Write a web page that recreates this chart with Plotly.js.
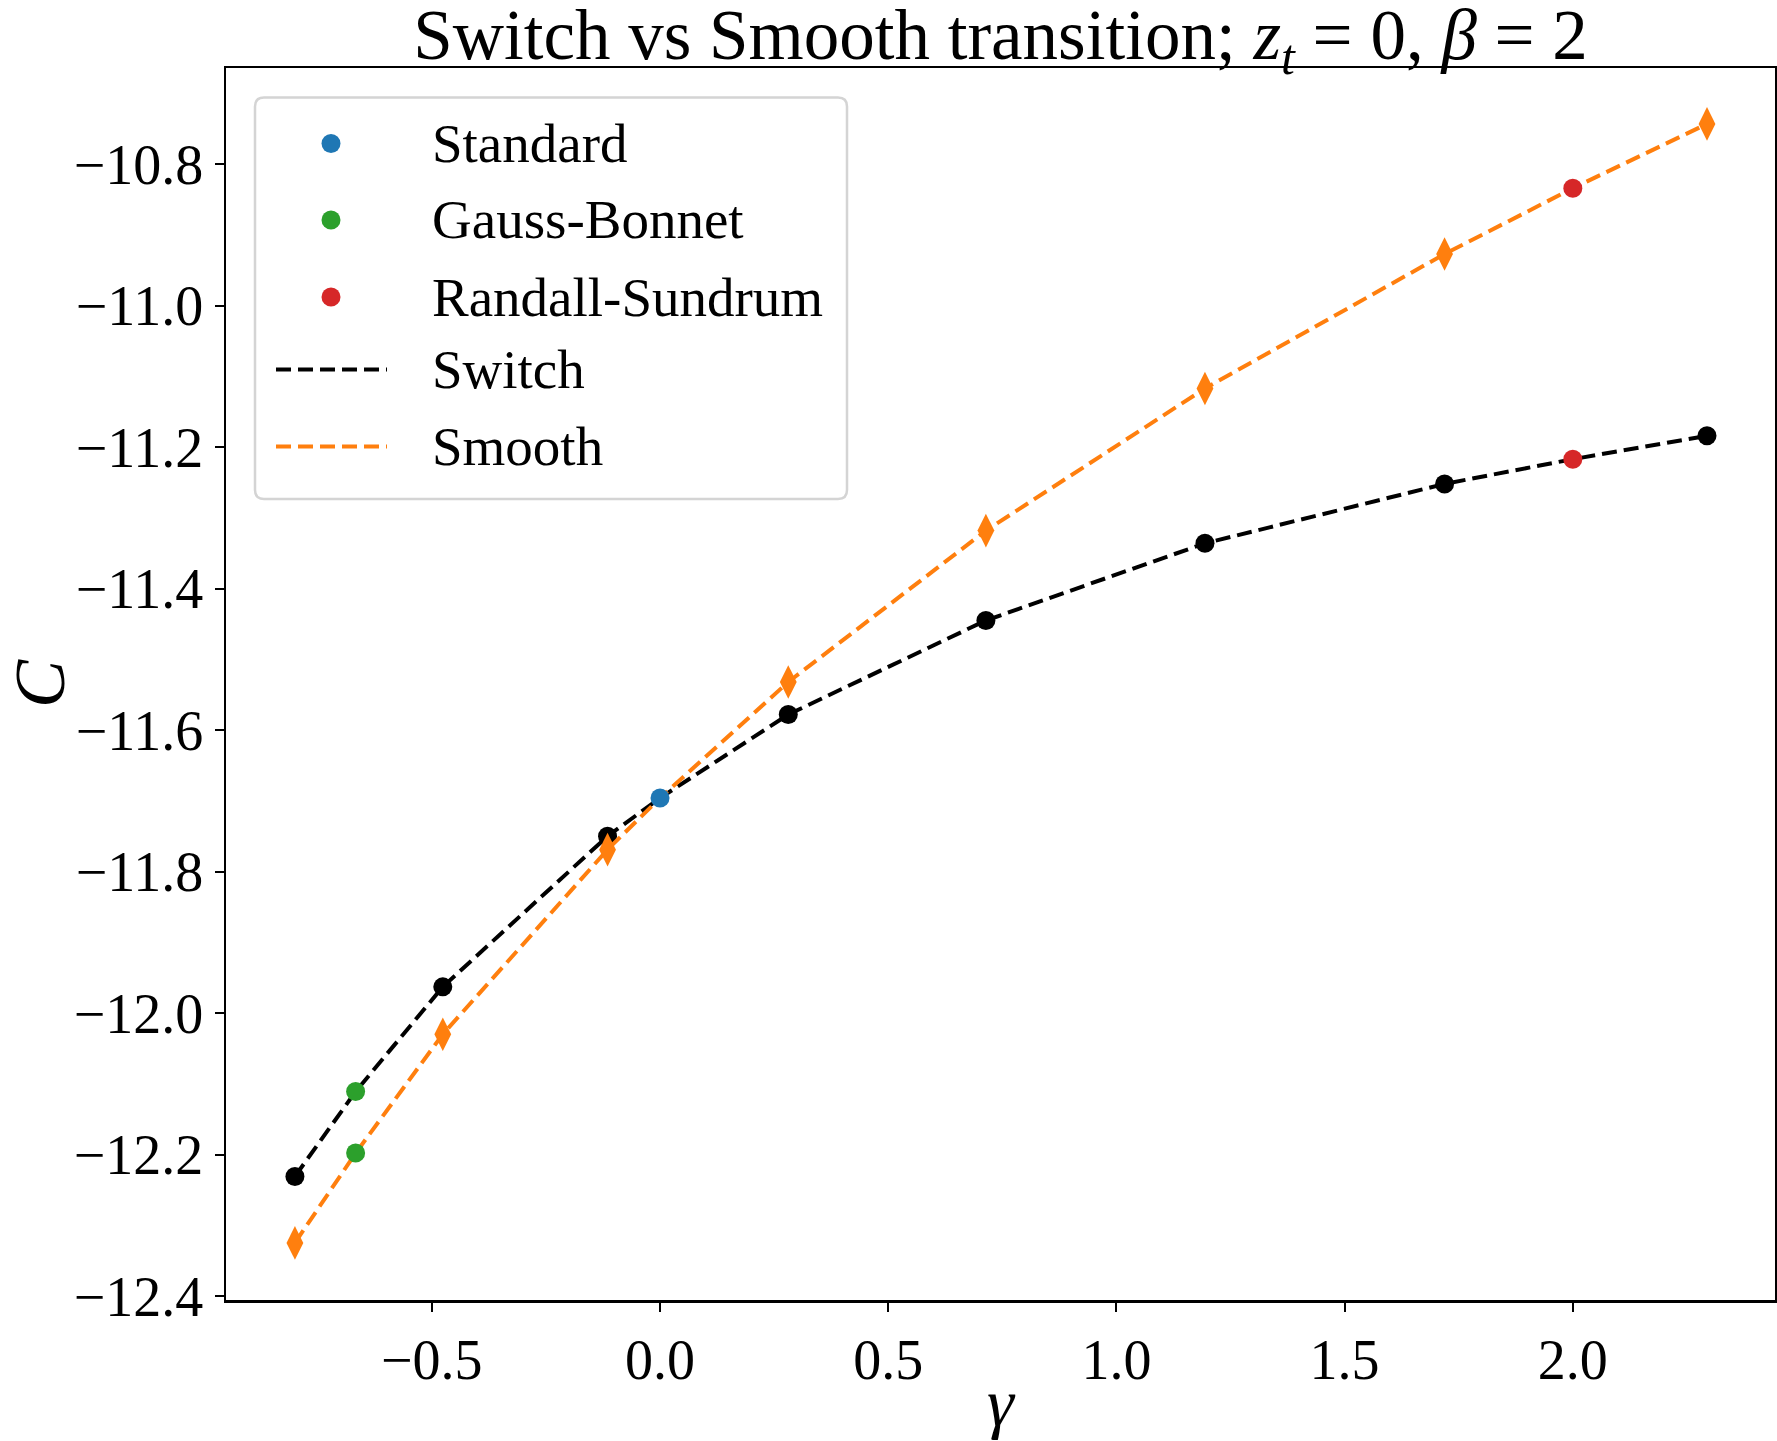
<!DOCTYPE html>
<html>
<head>
<meta charset="utf-8">
<script src="https://cdn.plot.ly/plotly-3.0.1.min.js"></script>
<style>
  html, body { margin: 0; padding: 0; background: #ffffff; }
  #chart { width: 1777px; height: 1441px; }
</style>
</head>
<body>
<div id="chart"></div>
<script>
// gamma values along both curves (specials included: GB at -0.667, standard at 0, RS at 2)
const gamma = [-0.8, -0.667, -0.476, -0.115, 0, 0.281, 0.714, 1.194, 1.719, 2.0, 2.294];
const switchC = [-12.231, -12.111, -11.963, -11.750, -11.696, -11.578, -11.445, -11.336, -11.252, -11.217, -11.184];
const smoothC = [-12.325, -12.198, -12.030, -11.769, -11.696, -11.532, -11.318, -11.117, -10.927, -10.834, -10.743];

// special models
const stdGamma = [0];
const stdC = [-11.696];
const gbGamma = [-0.667, -0.667];
const gbC = [-12.111, -12.198];
const rsGamma = [2.0, 2.0];
const rsC = [-11.217, -10.834];

const legendNames = ['Standard', 'Gauss-Bonnet', 'Randall-Sundrum', 'Switch', 'Smooth'];

const specialGamma = [].concat(stdGamma, gbGamma, rsGamma);
const isPlain = g => specialGamma.indexOf(g) < 0;

const font = 'Liberation Serif, Times New Roman, serif';
const dash = '15px,7px';

// plain (non special) points get the series markers
const plainIdx = gamma.map((g, i) => i).filter(i => isPlain(gamma[i]));
const pick = (arr) => plainIdx.map(i => arr[i]);

const data = [{ // Switch line
    x: gamma,
    y: switchC,
    name: 'Switch',
    mode: 'lines',
    line: { color: '#000000', width: 4, dash: dash },
}, { // Switch markers
    x: pick(gamma),
    y: pick(switchC),
    mode: 'markers',
    marker: { color: '#000000', size: 19, symbol: 'circle' },
}, { // Smooth line
    x: gamma,
    y: smoothC,
    name: 'Smooth',
    mode: 'lines',
    line: { color: '#ff7f0e', width: 4, dash: dash },
}, { // Smooth markers
    x: pick(gamma),
    y: pick(smoothC),
    mode: 'markers',
    marker: { color: '#ff7f0e', size: 24, symbol: 'diamond-tall' },
}, {
    x: stdGamma,
    y: stdC,
    name: 'Standard',
    mode: 'markers',
    marker: { color: '#1f77b4', size: 19 },
}, {
    x: gbGamma,
    y: gbC,
    name: 'Gauss-Bonnet',
    mode: 'markers',
    marker: { color: '#2ca02c', size: 19 },
}, {
    x: rsGamma,
    y: rsC,
    name: 'Randall-Sundrum',
    mode: 'markers',
    marker: { color: '#d62728', size: 19 },
}];

// plot area in pixels
const mL = 226, mR = 2, mT = 68, mB = 141;
const W = 1777, H = 1441;
const pw = W - mL - mR, ph = H - mT - mB;
const px2x = p => (p - mL) / pw;
const px2y = p => 1 - (p - mT) / ph;

// matplotlib style legend box, drawn by hand
const legendShapes = [];
const legendNotes = [];
const bx0 = px2x(255), bx1 = px2x(847), by1 = px2y(97.5), by0 = px2y(499);
const rx = 9 / pw, ry = 9 / ph;
legendShapes.push({
    type: 'path',
    xref: 'paper', yref: 'paper',
    path: 'M' + (bx0 + rx) + ',' + by1 + ' L' + (bx1 - rx) + ',' + by1 +
          ' Q' + bx1 + ',' + by1 + ' ' + bx1 + ',' + (by1 - ry) +
          ' L' + bx1 + ',' + (by0 + ry) +
          ' Q' + bx1 + ',' + by0 + ' ' + (bx1 - rx) + ',' + by0 +
          ' L' + (bx0 + rx) + ',' + by0 +
          ' Q' + bx0 + ',' + by0 + ' ' + bx0 + ',' + (by0 + ry) +
          ' L' + bx0 + ',' + (by1 - ry) +
          ' Q' + bx0 + ',' + by1 + ' ' + (bx0 + rx) + ',' + by1 + ' Z',
    fillcolor: '#ffffff',
    line: { color: '#d4d4d4', width: 2.5 },
    layer: 'above',
});
const rowY = [143.5, 220, 297, 369.5, 446.5];
legendNames.forEach((name, k) => {
    const tr = data.find(d => d.name === name);
    const yy = px2y(rowY[k]);
    if (tr.mode === 'markers') {
        legendShapes.push({
            type: 'circle',
            xref: 'paper', yref: 'paper',
            xsizemode: 'pixel', ysizemode: 'pixel',
            xanchor: px2x(331), yanchor: yy,
            x0: -9.5, x1: 9.5, y0: -9.5, y1: 9.5,
            fillcolor: tr.marker.color,
            line: { width: 0 },
            layer: 'above',
        });
    } else {
        legendShapes.push({
            type: 'line',
            xref: 'paper', yref: 'paper',
            x0: px2x(276), x1: px2x(387), y0: yy, y1: yy,
            line: { color: tr.line.color, width: 4, dash: dash },
            layer: 'above',
        });
    }
    legendNotes.push({
        xref: 'paper', yref: 'paper',
        x: px2x(430), y: yy,
        xanchor: 'left', yanchor: 'middle',
        text: name,
        showarrow: false,
        font: { family: font, size: 55, color: '#000000' },
    });
});

const layout = {
    width: W,
    height: H,
    margin: { l: mL, r: mR, t: mT, b: mB, pad: 0 },
    paper_bgcolor: '#ffffff',
    plot_bgcolor: '#ffffff',
    font: { family: font, size: 55, color: '#000000' },
    showlegend: false,
    title: {
        text: 'Switch vs Smooth transition; <i>z<sub>t</sub></i> = 0, <i>β</i> = 2',
        font: { family: font, size: 71, color: '#000000' },
        xref: 'paper',
        x: 0.5,
        xanchor: 'center',
        yref: 'container',
        y: 1 - 34 / H,
        yanchor: 'middle',
    },
    xaxis: {
        range: [-0.951, 2.443],
        dtick: 0.5,
        tick0: 0,
        tickformat: '.1f',
        ticks: 'outside',
        ticklen: 9,
        tickwidth: 2,
        tickcolor: '#000000',
        showline: true,
        linecolor: '#000000',
        linewidth: 2.5,
        mirror: true,
        showgrid: false,
        zeroline: false,
        tickfont: { family: font, size: 56 },
        title: { text: '<i>γ</i>', font: { family: font, size: 68 }, standoff: 12 },
    },
    yaxis: {
        range: [-12.4057, -10.664],
        dtick: 0.2,
        tick0: -10.8,
        tickformat: '.1f',
        ticks: 'outside',
        ticklen: 9,
        tickwidth: 2,
        tickcolor: '#000000',
        showline: true,
        linecolor: '#000000',
        linewidth: 2.5,
        mirror: true,
        showgrid: false,
        zeroline: false,
        tickfont: { family: font, size: 56 },
        title: { text: '<i>C</i>', font: { family: font, size: 72 }, standoff: 0 },
    },
    shapes: legendShapes,
    annotations: legendNotes,
};

Plotly.newPlot('chart', data, layout, { staticPlot: true, displayModeBar: false });
</script>
</body>
</html>
